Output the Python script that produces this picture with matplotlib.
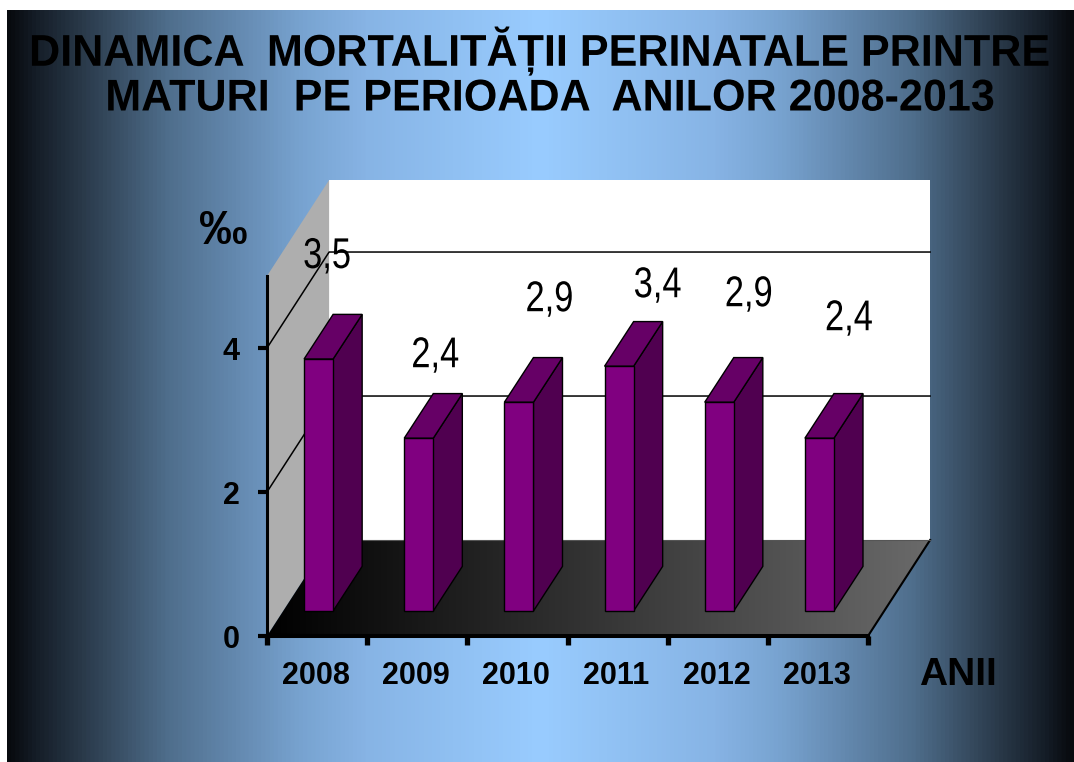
import numpy as np
import matplotlib
matplotlib.use('Agg')
import matplotlib.pyplot as plt
import matplotlib.patheffects as pe
from matplotlib.colors import LinearSegmentedColormap
from matplotlib.patches import Polygon
from matplotlib.transforms import Affine2D

#data
years = ['2008', '2009', '2010', '2011', '2012', '2013']
values = [3.5, 2.4, 2.9, 3.4, 2.9, 2.4]
value_labels = ['3,5', '2,4', '2,9', '3,4', '2,9', '2,4']
y_ticks = [0, 2, 4]
grid_values = [2, 4]

#hand placed label offsets, pixels from bar corner
label_dx = [23, 31, 45, 53, 44, 44]
label_dy = [102, 82, 102, 80, 107, 119]

#fake 3d in axis units
depth_x = 0.62
depth_y = 1.333
bar_left = 0.37
bar_width = 0.29
bar_lift = 0.347
bar_dx = 0.29
bar_dy = 0.62
y_max = 5

W, H = 1074, 762


class Squeeze(pe.AbstractPathEffect):
    #narrow the glyphs around a pixel x, no condensed font here
    def __init__(self, cx, sx):
        super().__init__()
        self.cx = cx
        self.sx = sx

    def draw_path(self, renderer, gc, tpath, affine, rgbFace=None):
        squeeze = Affine2D().translate(-self.cx, 0).scale(self.sx, 1).translate(self.cx, 0)
        renderer.draw_path(gc, tpath, affine + squeeze, rgbFace)


fig = plt.figure(figsize=(W / 100, H / 100), dpi=100, facecolor='white')
plt.rcParams['font.family'] = ['Liberation Sans', 'DejaVu Sans']

#background
bg = fig.add_axes([7 / W, 0, (W - 7) / W, (H - 10) / H], zorder=-1)
bg_stops = [(0.0, '#070a0e'), (0.024, '#141c26'), (0.087, '#324558'), (0.15, '#4f6e8c'),
            (0.212, '#6388ae'), (0.275, '#78a3d0'), (0.337, '#87b4e5'), (0.5, '#99ccff')]
bg_cmap = LinearSegmentedColormap.from_list('bg', bg_stops + [(1 - p, c) for p, c in bg_stops[-2::-1]])
bg.imshow(np.linspace(0, 1, 1024).reshape(1, -1), aspect='auto', cmap=bg_cmap)
bg.axis('off')

ax = fig.add_axes([267 / W, (H - 636) / H, 601 / W, 360 / H])
ax.patch.set_alpha(0)
n = len(years)

#walls
ax.add_patch(Polygon([(depth_x, depth_y), (n + depth_x, depth_y), (n + depth_x, y_max + depth_y), (depth_x, y_max + depth_y)],
                     fc='white', ec='none', clip_on=False, zorder=1))
ax.add_patch(Polygon([(0, 0), (depth_x, depth_y), (depth_x, y_max + depth_y), (0, y_max)],
                     fc='#aeaeae', ec='none', clip_on=False, zorder=1))

#floor
floor_pts = [(0, 0), (n, 0), (n + depth_x, depth_y), (depth_x, depth_y)]
floor_cmap = LinearSegmentedColormap.from_list('floor', ['#000000', '#6a6a6a'])
floor = ax.imshow(np.linspace(0, 1, 256).reshape(1, -1), extent=[0, n + depth_x, 0, depth_y],
                  aspect='auto', cmap=floor_cmap, zorder=2)
clip = Polygon(floor_pts, transform=ax.transData, fc='none', ec='none', clip_on=False)
ax.add_patch(clip)
floor.set_clip_on(True)
floor.set_clip_box(fig.bbox)
floor.set_clip_path(clip)
ax.plot([n, n + depth_x], [0, depth_y], color='black', lw=1.5, clip_on=False, zorder=3)
ax.plot([depth_x, n + depth_x], [depth_y, depth_y], color='#555555', lw=0.8, clip_on=False, zorder=3)

#grid
for g in grid_values:
    ax.plot([0, depth_x, n + depth_x], [g, g + depth_y, g + depth_y], color='black', lw=1.1, clip_on=False, zorder=3)

#axes
ax.set_xlim(0, n)
ax.set_ylim(0, y_max)

#bars
for i, v in enumerate(values):
    x0 = i + bar_left
    x1 = x0 + bar_width
    y0 = bar_lift
    y1 = y0 + v
    ax.add_patch(Polygon([(x1, y0), (x1 + bar_dx, y0 + bar_dy), (x1 + bar_dx, y1 + bar_dy), (x1, y1)],
                         fc='#500050', ec='black', lw=1, clip_on=False, zorder=5))
    ax.add_patch(Polygon([(x0, y1), (x1, y1), (x1 + bar_dx, y1 + bar_dy), (x0 + bar_dx, y1 + bar_dy)],
                         fc='#660066', ec='black', lw=1, clip_on=False, zorder=5))
    ax.add_patch(Polygon([(x0, y0), (x1, y0), (x1, y1), (x0, y1)],
                         fc='#800080', ec='black', lw=1, clip_on=False, zorder=6))
    cx = ax.transData.transform((x0, y1))[0] + label_dx[i]
    ax.annotate(value_labels[i], (x0, y1), xytext=(label_dx[i], label_dy[i]), textcoords='offset pixels',
                ha='center', va='center', fontsize=31, color='black', annotation_clip=False, zorder=8,
                path_effects=[Squeeze(cx, 0.8)])

for s in ['top', 'right']:
    ax.spines[s].set_visible(False)
ax.spines['left'].set_linewidth(2.2)
ax.spines['bottom'].set_linewidth(2.9)
ax.spines['left'].set_zorder(7)
ax.spines['bottom'].set_zorder(7)
ax.set_xticks(np.arange(n + 1))
ax.set_xticklabels([])
ax.set_xticks(np.arange(n) + 0.49, minor=True)
ax.set_xticklabels(years, minor=True, fontsize=22, fontweight='bold')
ax.tick_params(axis='x', which='major', length=6.5, width=3.8, color='black')
ax.tick_params(axis='x', which='minor', length=0, pad=18)
ax.set_yticks(y_ticks)
ax.set_yticklabels([str(t) for t in y_ticks], fontsize=22, fontweight='bold')
ax.tick_params(axis='y', length=6.5, width=3, color='black', pad=13)

#title and axis names, slightly taller than the plain font
fig.text(540.5 / W, 1 - 51 / H, 'DINAMICA  MORTALITĂȚII PERINATALE PRINTRE', ha='center', va='center',
         fontsize=32, fontweight='bold', color='black', path_effects=[Squeeze(540.5, 0.97)])
fig.text(550.5 / W, 1 - 99 / H, 'MATURI  PE PERIOADA  ANILOR 2008-2013', ha='center', va='center',
         fontsize=32, fontweight='bold', color='black', path_effects=[Squeeze(550.5, 0.97)])
fig.text(223 / W, 1 - 232 / H, '‰', ha='center', va='center', fontsize=35, fontweight='bold', color='black')
fig.text(958 / W, 1 - 675 / H, 'ANII', ha='center', va='center', fontsize=28, fontweight='bold', color='black')

fig.savefig('out.png', dpi=100)
